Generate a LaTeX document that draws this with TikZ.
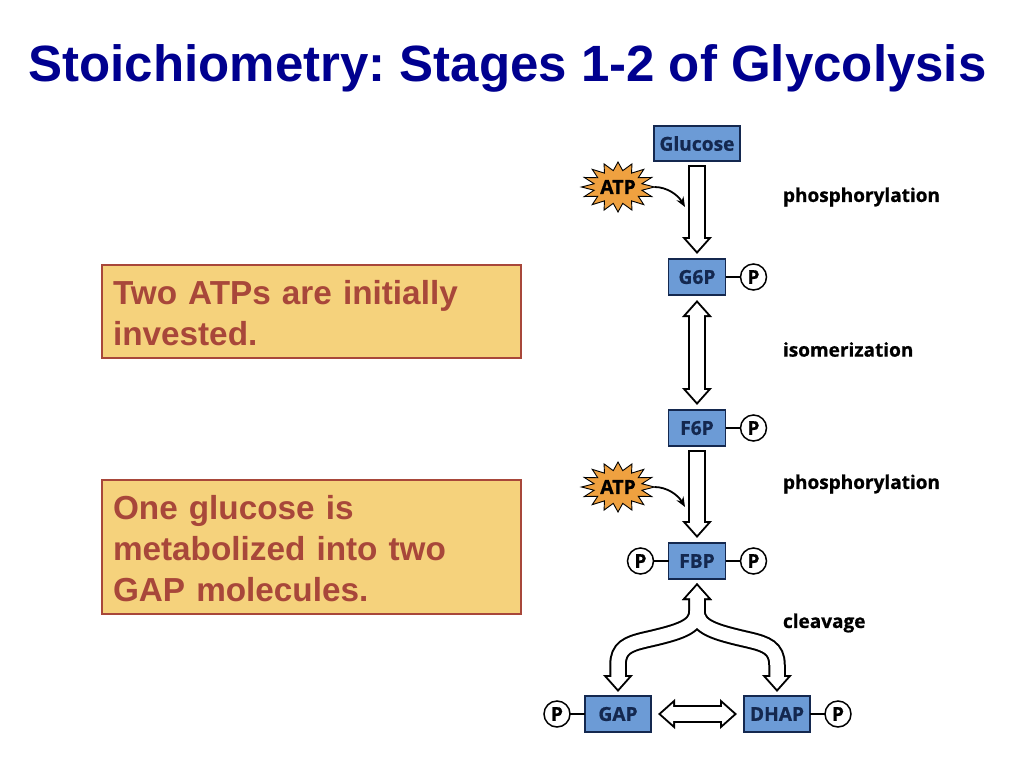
\documentclass[tikz,border=0pt]{standalone}
\usepackage{fontspec}
\setmainfont{Liberation Sans}
\newfontfamily\figfont[BoldFeatures={FakeBold=0.8}]{Open Sans}
\usetikzlibrary{positioning, shapes.geometric, arrows.meta}
\definecolor{titleblue}{HTML}{00008F}
\definecolor{notefill}{HTML}{F5D27C}
\definecolor{notetext}{HTML}{A8473A}
\definecolor{boxblue}{HTML}{6C9BD6}
\definecolor{boxedge}{HTML}{14284F}
\definecolor{burstfill}{HTML}{EFA140}
\tikzset{
  every node/.style={outer sep=0},
  blacktip/.tip={Triangle[width=29pt,length=17pt]},
  whitetip/.tip={Triangle[width=20.5pt,length=12pt]},
  backline/.style={line width=17.5pt,draw=black},
  whiteline/.style={line width=13.5pt,draw=white},
  title/.style={font=\figtitle,text=titleblue,inner sep=0},
  note/.style={draw=notetext,line width=1.5pt,fill=notefill,text=notetext,font=\notefont,
    align=left,text width=397pt,inner sep=0,inner xsep=11pt,minimum width=419pt,anchor=north west,
    execute at begin node={\rule{0pt}{27pt}}},
  metabolite/.style={rectangle,draw=boxedge,line width=1.2pt,fill=boxblue,text=boxedge,
    font=\figfont\bfseries\fontsize{19.2}{19.2}\selectfont,inner sep=0,minimum width=57pt,minimum height=36pt},
  phosphate/.style={circle,draw=black,line width=1.5pt,fill=white,text=black,
    font=\figfont\bfseries\fontsize{19}{19}\selectfont,inner sep=0,minimum size=26pt},
  steplabel/.style={font=\figfont\bfseries\fontsize{19}{19}\selectfont,text=black,inner sep=0,anchor=west},
  burst/.style={star,star points=16,star point ratio=1.5,draw=black,line width=0.9pt,fill=burstfill,
    inner sep=0,minimum size=50pt,xscale=1.46,transform shape},
  burstlabel/.style={font=\figfont\bfseries\fontsize{19.5}{19.5}\selectfont,text=black,inner sep=0},
  bond/.style={line width=1.4pt,draw=black},
  curlarrow/.style={line width=1.8pt,draw=black,-{Stealth[length=10pt,width=8pt]}}
}
\newcommand{\figtitle}{\bfseries\fontsize{51}{51}\selectfont}
\newcommand{\notefont}{\bfseries\fontsize{33.3}{41}\selectfont}
% wide white arrows, drawn twice: black first, white on top
\newcommand{\singlearrow}[1]{%
  \draw[backline,-blacktip,shorten <=4pt,shorten >=5pt] #1;
  \draw[whiteline,-whitetip,shorten <=6pt,shorten >=8pt] #1;}
\newcommand{\doublearrow}[2][5]{%
  \draw[backline,blacktip-blacktip,shorten <=#1pt,shorten >=#1pt] #2;
  \draw[whiteline,whitetip-whitetip,shorten <=#1pt+3pt,shorten >=#1pt+3pt] #2;}
\begin{document}
\frenchspacing
\begin{tikzpicture}[x=1pt,y=-1pt]
\useasboundingbox (0,0) rectangle (1024,768);
\node (slide_title) [title] at (507.5,68) {Stoichiometry: Stages 1-2 of Glycolysis};
\node (note_atp) [note,minimum height=93pt] at (102,265) {Two ATPs are initially\\invested.};
\node (note_gap) [note,minimum height=134pt] at (102,480) {One glucose is\\metabolized into two\\GAP molecules.};
% pathway
\node (glucose) [metabolite,minimum width=86pt,minimum height=35pt] at (697,143.5) {Glucose};
\node (g6p) [metabolite,below=98pt of glucose] {G6P};
\node (f6p) [metabolite,below=115pt of g6p] {F6P};
\node (fbp) [metabolite,below=97pt of f6p] {FBP};
\node (gap) [metabolite,minimum width=66pt,below=117pt of fbp,xshift=-79pt] {GAP};
\node (dhap) [metabolite,minimum width=66pt,right=93pt of gap] {DHAP};
% phosphates
\node (g6p_p) [phosphate,right=15pt of g6p] {P};
\node (f6p_p) [phosphate,right=15pt of f6p] {P};
\node (fbp_pr) [phosphate,right=15pt of fbp] {P};
\node (fbp_pl) [phosphate,left=15pt of fbp] {P};
\node (gap_p) [phosphate,left=15pt of gap] {P};
\node (dhap_p) [phosphate,right=15pt of dhap] {P};
\draw [bond] (g6p) -- (g6p_p);
\draw [bond] (f6p) -- (f6p_p);
\draw [bond] (fbp) -- (fbp_pr);
\draw [bond] (fbp) -- (fbp_pl);
\draw [bond] (gap) -- (gap_p);
\draw [bond] (dhap) -- (dhap_p);
% wide arrows
\singlearrow{(glucose.south) -- (g6p.north)}
\doublearrow{(g6p.south) -- (f6p.north)}
\singlearrow{(f6p.south) -- (fbp.north)}
\doublearrow[7]{(gap.east) -- (dhap.west)}
\draw[backline,blacktip-blacktip,shorten <=4pt,shorten >=4pt]
  (fbp.south) -- ++(0,32) .. controls ++(0,16) and (680,632) .. (645,640) .. controls (628,644) and (618,648) .. (618,665) -- (gap.north);
\draw[backline,blacktip-blacktip,shorten <=4pt,shorten >=4pt]
  (fbp.south) -- ++(0,32) .. controls ++(0,16) and (714,632) .. (749,640) .. controls (766,644) and (777,648) .. (777,665) -- (dhap.north);
\draw[whiteline,whitetip-whitetip,shorten <=7pt,shorten >=7pt]
  (fbp.south) -- ++(0,32) .. controls ++(0,16) and (680,632) .. (645,640) .. controls (628,644) and (618,648) .. (618,665) -- (gap.north);
\draw[whiteline,whitetip-whitetip,shorten <=7pt,shorten >=7pt]
  (fbp.south) -- ++(0,32) .. controls ++(0,16) and (714,632) .. (749,640) .. controls (766,644) and (777,648) .. (777,665) -- (dhap.north);
% ATP bursts
\node (atp_one) [burst] at (618,187) {};
\node (atp_one_text) [burstlabel] at (atp_one) {ATP};
\node (atp_two) [burst] at (618,487) {};
\node (atp_two_text) [burstlabel] at (atp_two) {ATP};
\coordinate (atp_one_end) at (685,207);
\coordinate (atp_two_end) at (685,507);
\draw [curlarrow] (atp_one.east) .. controls (667,187) and (678,195) .. (atp_one_end);
\draw [curlarrow] (atp_two.east) .. controls (667,487) and (678,495) .. (atp_two_end);
% step labels
\node (step_phos_one) [steplabel] at (783,197) {phosphorylation};
\node (step_iso) [steplabel] at (783,349.5) {isomerization};
\node (step_phos_two) [steplabel] at (783,484) {phosphorylation};
\node (step_cleave) [steplabel] at (783,623) {cleavage};
\end{tikzpicture}
\end{document}
